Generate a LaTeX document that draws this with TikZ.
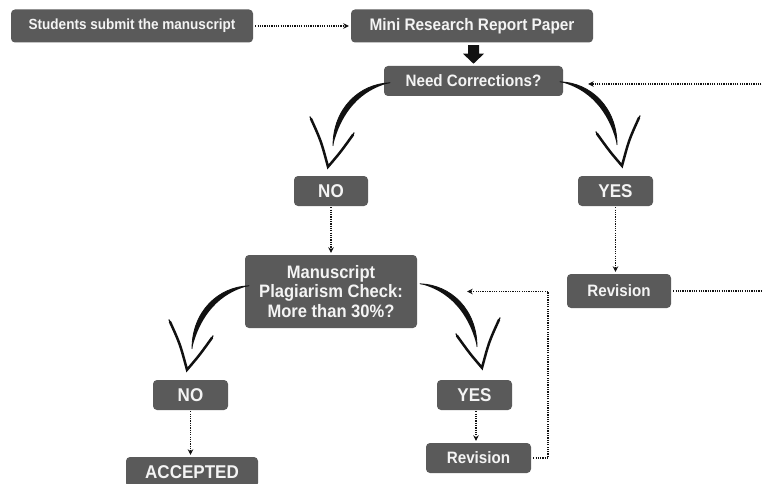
\documentclass[tikz,border=0pt]{standalone}
\usepackage{fontspec}
\setmainfont{Liberation Sans}[FakeStretch=0.92]
\usetikzlibrary{arrows.meta,calc}
\definecolor{boxgray}{HTML}{5A5A5A}
\definecolor{txt}{HTML}{F4F4F4}
\definecolor{ink}{HTML}{111111}
\newcommand\fs[2]{\fontsize{#1}{#2}\selectfont\bfseries}
\begin{document}
\begin{tikzpicture}[x=1pt,y=-1pt,
  box/.style={fill=boxgray, rounded corners=4pt, text=txt, inner sep=0pt, align=center},
  dots/.style={draw=ink, line width=1.7pt, dash pattern=on 1.2pt off 1.1pt, -{Stealth[length=5.5pt,width=5.5pt]}},
  brush/.pic={
    \fill[ink] (62,-84) .. controls (31,-83) and (5,-58) .. (5,-21)
       .. controls (13,-55) and (33,-77) .. (62,-84) -- cycle;
    \draw[ink, line width=0.8pt, line cap=round] (62,-84) .. controls (31,-83) and (5,-58) .. (5,-21);
    \draw[ink, line width=2.5pt, line cap=round, line join=miter] (-17,-48) .. controls (-7,-26) .. (0,0) .. controls (12,-14) .. (25,-32);
    \draw[ink, line width=1.2pt, line cap=round] (-18,-50) -- (-17,-48) (25,-32) -- (26,-34);
  }]
\useasboundingbox (0,0) rectangle (763,484);
\clip (0,0) rectangle (763,484);
\fill[white] (0,0) rectangle (763,484);

% nodes
\node[box, minimum width=242pt, minimum height=33pt, font=\fs{14.7}{17}] (stu) at (132,26) {Students submit the manuscript};
\node[box, minimum width=242pt, minimum height=33pt, font=\fs{16.7}{19}] (mini) at (472,26) {Mini Research Report Paper};
\node[box, minimum width=179pt, minimum height=30pt, font=\fs{16.5}{19}] (need) at (473.5,81) {Need Corrections?};
\node[box, minimum width=74pt, minimum height=30pt, font=\fs{18.5}{20}] (no1) at (331,191) {NO};
\node[box, minimum width=75pt, minimum height=30pt, font=\fs{18.5}{20}] (yes1) at (615.5,191) {YES};
\node[box, minimum width=172pt, minimum height=73pt, font=\fs{18}{19.5}] (manu) at (331,291.5) {Manuscript\\Plagiarism Check:\\More than 30\%?};
\node[box, minimum width=104pt, minimum height=34pt, font=\fs{16.5}{19}] (rev1) at (619,291) {Revision};
\node[box, minimum width=75pt, minimum height=30pt, font=\fs{18.5}{20}] (no2) at (190.5,395) {NO};
\node[box, minimum width=75pt, minimum height=30pt, font=\fs{18.5}{20}] (yes2) at (474.5,395) {YES};
\node[box, minimum width=132pt, minimum height=30pt, font=\fs{18.5}{20}] (acc) at (192,472) {ACCEPTED};
\node[box, minimum width=105pt, minimum height=30pt, font=\fs{16.5}{19}] (rev2) at (478.5,458) {Revision};

% free ends
\coordinate (e1) at (766,84);
\coordinate (e1tip) at ($(need.east)+(25,3)$);
\coordinate (e2) at (766,291);
\coordinate (c2) at ($(manu.east)+(50,0)$);

% dotted connectors
\draw[dots, shorten <=2pt, shorten >=2pt] (stu) -- (mini);
\draw[dots] (e1) -- (e1tip);
\draw[dots, shorten <=1pt, shorten >=2pt] (no1) -- (manu);
\draw[dots, shorten <=1pt, shorten >=2pt] (yes1.south) -- (yes1.south |- rev1.north);
\draw[dots, -] ($(rev1.east)+(2,0)$) -- (e2);
\draw[dots, shorten <=1pt, shorten >=2pt] (no2.south) -- (no2.south |- acc.north);
\draw[dots, shorten <=1pt, shorten >=2pt] ($(yes2.south)+(1.5,0)$) -- ($(yes2.south |- rev2.north)+(1.5,0)$);
\draw[dots] ($(rev2.east)+(2,0)$) -| ($(c2)+(81,0)$) -- (c2);

% block arrow
\coordinate (ba) at (need.north |- mini.south);
\fill[ink] (ba) ++(-5.5,2.5) -- ++(11,0) -- ++(0,8.5) -- ++(5,0) -- ++(-10.5,10) -- ++(-10.5,-10) -- ++(5,0) -- cycle;

% brush arrows
\pic at ($(no1.north)+(-3,-9)$) {brush};
\pic[xscale=-1] at ($(yes1.north)+(6.5,-10)$) {brush};
\pic at ($(no2.north)+(-3.5,-10)$) {brush};
\pic[xscale=-1] at ($(yes2.north)+(7.5,-12)$) {brush};
\end{tikzpicture}
\end{document}
